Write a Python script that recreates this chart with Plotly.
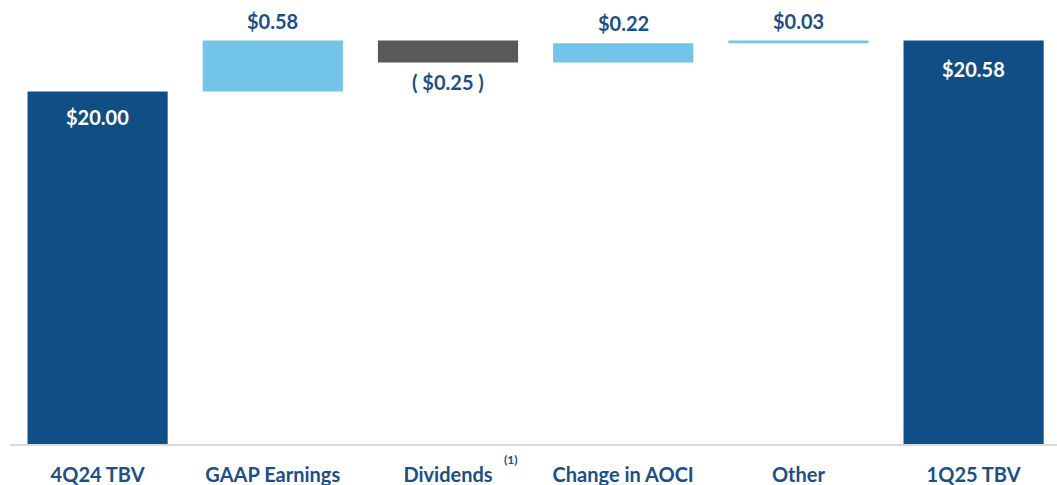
import plotly.graph_objects as go

categories = ["4Q24 TBV", "GAAP Earnings", "Dividends", "Change in AOCI", "Other", "1Q25 TBV"]
values = [20.00, 0.58, -0.25, 0.22, 0.03, 20.58]
measures = ["absolute", "relative", "relative", "relative", "relative", "total"]
labels = ["$20.00", "$0.58", "( $0.25 )", "$0.22", "$0.03", "$20.58"]

DARK = "#0F4F85"
LIGHT = "#72C5E8"
GRAY = "#58595B"
TXT = "#1B4F86"
FONT = "Lato"

fig = go.Figure(go.Waterfall(
    x=categories, y=values, measure=measures,
    increasing=dict(marker=dict(color=LIGHT)),
    decreasing=dict(marker=dict(color=GRAY)),
    totals=dict(marker=dict(color=DARK)),
    connector=dict(visible=False),
    hoverinfo="skip",
))

ann = []
running = 0.0
for i, (c, v, m, t) in enumerate(zip(categories, values, measures, labels)):
    if m == "absolute":
        running = v
        ann.append(dict(x=c, y=running, text=t, yanchor="top", yshift=-11,
                        font=dict(color="white", size=20, family=FONT)))
    elif m == "total":
        ann.append(dict(x=c, y=running, text=t, yanchor="top", yshift=-14,
                        font=dict(color="white", size=20, family=FONT)))
    else:
        running += v
        if v >= 0:
            ann.append(dict(x=c, y=running, text=t, yanchor="bottom", yshift=6,
                            font=dict(color=TXT, size=20, family=FONT)))
        else:
            ann.append(dict(x=c, y=running, text=t, yanchor="top", yshift=-5,
                            font=dict(color=TXT, size=20, family=FONT)))
for a in ann:
    a.update(showarrow=False, xref="x", yref="y")
    a["text"] = "<b>" + a["text"] + "</b>"
ann.append(dict(x="Dividends", y=0, xref="x", yref="paper", text="<b>(1)</b>",
                showarrow=False, xshift=63, yshift=-6, yanchor="top",
                font=dict(color=TXT, size=12, family=FONT)))

fig.update_layout(
    width=1057, height=485,
    margin=dict(l=10, r=0, t=0, b=41),
    paper_bgcolor="white", plot_bgcolor="white",
    showlegend=False,
    bargap=0.205,
    annotations=ann,
    font=dict(family=FONT),
)
fig.update_xaxes(
    range=[-0.5, 5.476], showgrid=False, zeroline=False,
    showline=True, linecolor="#D9D9D9", linewidth=2,
    ticks="", tickfont=dict(size=20, color=TXT, family=FONT),
    tickvals=categories, ticktext=["<b>" + c + "</b>" for c in categories],
    ticklabelstandoff=12, automargin=False,
)
fig.update_yaxes(range=[16, 21.04], visible=False, showgrid=False, zeroline=False)

fig.write_html("out.html", config={"displayModeBar": False},
               post_script="document.body.style.margin='0';document.body.style.overflow='hidden';")
